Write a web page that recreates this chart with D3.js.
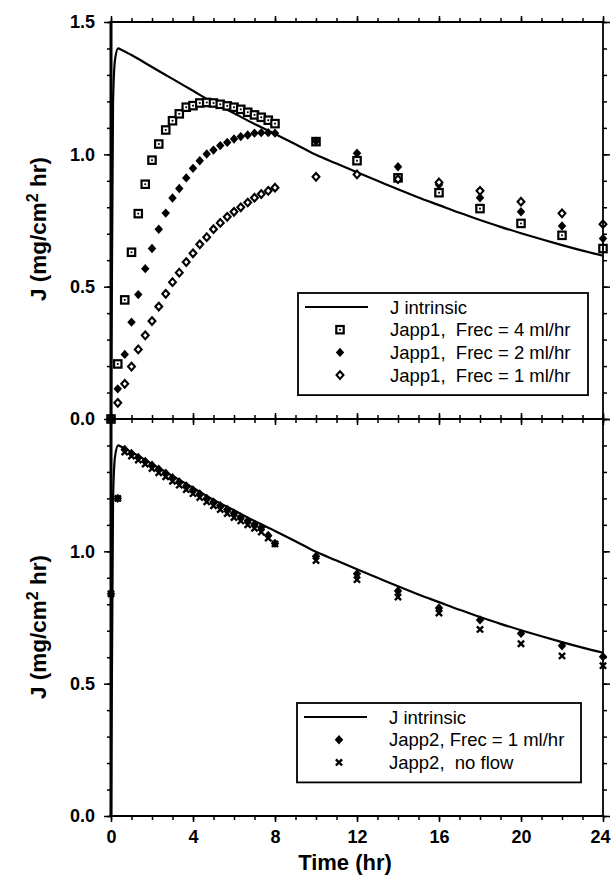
<!DOCTYPE html>
<html>
<head>
<meta charset="utf-8" />
<title>J vs time</title>
<style>
  body { margin: 0; background: #fff; }
  text { font-family: "Liberation Sans", Arial, sans-serif; fill: #000; white-space: pre; }
</style>
</head>
<body>
<svg width="612" height="890"></svg>
<script src="https://cdn.jsdelivr.net/npm/d3@7"></script>
<script>
// ---- data ----
var tIntr = [0, 0.1, 0.2, 0.35, 0.5, 1, 2, 3, 4, 5, 6, 7, 8, 9, 10, 11, 12, 13, 14, 15, 16, 17, 18, 19, 20, 21, 22, 23, 24];
var jIntr = [0, 1.2, 1.36, 1.40, 1.395, 1.375, 1.33, 1.285, 1.24, 1.195, 1.155, 1.115, 1.077, 1.038, 0.998, 0.965, 0.932, 0.9, 0.868, 0.837, 0.808, 0.779, 0.752, 0.726, 0.702, 0.679, 0.657, 0.636, 0.617];

var tApp = [0, 0.33, 0.67, 1, 1.33, 1.67, 2, 2.33, 2.67, 3, 3.33, 3.67, 4, 4.33, 4.67, 5, 5.33, 5.67, 6, 6.33, 6.67, 7, 7.33, 7.67, 8,
            10, 12, 14, 16, 18, 20, 22, 24];

var japp1F4 = [0, 0.208, 0.45, 0.63, 0.776, 0.887, 0.978, 1.039, 1.092, 1.127, 1.153, 1.178, 1.184, 1.194, 1.196, 1.194, 1.189, 1.183, 1.178, 1.17, 1.159, 1.149, 1.14, 1.129, 1.116,
               1.048, 0.976, 0.911, 0.855, 0.795, 0.739, 0.694, 0.644];
var japp1F2 = [0, 0.114, 0.244, 0.366, 0.47, 0.568, 0.644, 0.717, 0.778, 0.835, 0.871, 0.911, 0.947, 0.976, 1.001, 1.016, 1.033, 1.045, 1.058, 1.067, 1.073, 1.08, 1.082, 1.082, 1.08,
               1.05, 1.004, 0.953, 0.885, 0.836, 0.783, 0.729, 0.682];
var japp1F1 = [0, 0.061, 0.133, 0.198, 0.263, 0.316, 0.37, 0.425, 0.473, 0.517, 0.553, 0.593, 0.626, 0.66, 0.687, 0.717, 0.741, 0.764, 0.783, 0.8, 0.818, 0.836, 0.85, 0.862, 0.874,
               0.915, 0.924, 0.906, 0.894, 0.862, 0.821, 0.777, 0.736];

var japp2F1 = [0.84, 1.20, 1.385, 1.37, 1.355, 1.34, 1.325, 1.31, 1.295, 1.278, 1.262, 1.247, 1.232, 1.217, 1.20, 1.186, 1.172, 1.158, 1.144, 1.13, 1.116, 1.102, 1.09, 1.06, 1.03,
               0.981, 0.915, 0.85, 0.786, 0.741, 0.69, 0.643, 0.602];
var japp2None = [0.84, 1.20, 1.375, 1.36, 1.345, 1.33, 1.313, 1.297, 1.282, 1.265, 1.25, 1.233, 1.218, 1.203, 1.187, 1.172, 1.158, 1.143, 1.128, 1.115, 1.10, 1.087, 1.073, 1.05, 1.028,
                 0.965, 0.893, 0.827, 0.767, 0.705, 0.651, 0.605, 0.568];

var xMajor = [0, 4, 8, 12, 16, 20, 24];
var yMajorTop = [0, 0.5, 1.0, 1.5];
var yMajorBottom = [0, 0.5, 1.0];

var legendTop = ["J intrinsic", "Japp1,  Frec = 4 ml/hr", "Japp1,  Frec = 2 ml/hr", "Japp1,  Frec = 1 ml/hr"];
var legendBottom = ["J intrinsic", "Japp2, Frec = 1 ml/hr", "Japp2,  no flow"];

// ---- layout ----
var svg = d3.select("svg");
var x = d3.scaleLinear().domain([0, 24]).range([111, 603]);
var yTop = d3.scaleLinear().domain([0, 1.5]).range([419, 22]);
var yBot = d3.scaleLinear().domain([0, 1.5]).range([816, 419]);

// ---- marker painters ----
function square(g, cx, cy) {
    g.append("rect").attr("x", cx - 3.7).attr("y", cy - 3.7).attr("width", 7.4).attr("height", 7.4)
        .attr("fill", "#fff").attr("stroke", "#000").attr("stroke-width", 2.2);
    g.append("rect").attr("x", cx - 0.9).attr("y", cy - 0.9).attr("width", 1.8).attr("height", 1.8).attr("fill", "#000");
}
function diamondPath(cx, cy, r) {
    return "M" + cx + "," + (cy - r) + "L" + (cx + r * 0.9) + "," + cy + "L" + cx + "," + (cy + r) + "L" + (cx - r * 0.9) + "," + cy + "Z";
}
function filledDiamond(g, cx, cy) {
    g.append("path").attr("d", diamondPath(cx, cy, 4.7)).attr("fill", "#000");
}
function openDiamond(g, cx, cy) {
    g.append("path").attr("d", diamondPath(cx, cy, 3.8)).attr("fill", "#fff")
        .attr("stroke", "#000").attr("stroke-width", 2.1);
}
function cross(g, cx, cy) {
    var r = 3.1;
    g.append("path").attr("d", "M" + (cx - r) + "," + (cy - r) + "L" + (cx + r) + "," + (cy + r) +
        "M" + (cx - r) + "," + (cy + r) + "L" + (cx + r) + "," + (cy - r))
        .attr("stroke", "#000").attr("stroke-width", 2.4).attr("fill", "none");
}

function drawSeries(y, vals, painter) {
    var g = svg.append("g");
    vals.forEach(function (v, i) { painter(g, x(tApp[i]), y(v)); });
}

// ---- axes for a panel ----
function drawAxes(y, yMajor, showXLabels) {
    var top = y.range()[1], bot = y.range()[0];
    var noLab = function () { return ""; };
    var minorY = d3.range(0, 1.501, 0.1);
    var minorX = d3.range(0, 24.01, 1);

    function add(axis, tr) {
        var g = svg.append("g").attr("transform", tr).call(axis);
        g.selectAll("path.domain").remove();
        g.selectAll(".tick line").attr("stroke", "#000").attr("stroke-width", 1.5);
        g.selectAll(".tick text").attr("font-size", 18).attr("font-weight", "bold")
            .attr("font-family", "Liberation Sans, Arial, sans-serif");
        return g;
    }
    // left
    add(d3.axisLeft(y).tickValues(minorY).tickSize(4).tickFormat(noLab), "translate(" + x(0) + ",0)");
    add(d3.axisLeft(y).tickValues(yMajor).tickSize(7).tickPadding(9).tickFormat(d3.format(".1f")), "translate(" + x(0) + ",0)");
    // right
    add(d3.axisRight(y).tickValues(minorY).tickSize(4).tickFormat(noLab), "translate(" + x(24) + ",0)");
    add(d3.axisRight(y).tickValues(yMajorTop).tickSize(7).tickFormat(noLab), "translate(" + x(24) + ",0)");
    // top
    add(d3.axisTop(x).tickValues(minorX).tickSize(4).tickFormat(noLab), "translate(0," + top + ")");
    add(d3.axisTop(x).tickValues(xMajor).tickSize(6).tickFormat(noLab), "translate(0," + top + ")");
    // bottom
    add(d3.axisBottom(x).tickValues(minorX).tickSize(4).tickFormat(noLab), "translate(0," + bot + ")");
    var gx = add(d3.axisBottom(x).tickValues(xMajor).tickSize(6).tickPadding(8)
        .tickFormat(showXLabels ? d3.format("d") : noLab), "translate(0," + bot + ")");
    // keep the last label inside the page
    gx.selectAll(".tick text").filter(function (d) { return d === 24; }).attr("dx", -3);

    // frame
    svg.append("line").attr("x1", x(0)).attr("x2", x(0)).attr("y1", top).attr("y2", bot)
        .attr("stroke", "#000").attr("stroke-width", 3);
    svg.append("line").attr("x1", x(24)).attr("x2", x(24)).attr("y1", top).attr("y2", bot)
        .attr("stroke", "#000").attr("stroke-width", 1.8);
    svg.append("line").attr("x1", x(0) - 1.5).attr("x2", x(24)).attr("y1", top).attr("y2", top)
        .attr("stroke", "#000").attr("stroke-width", 1.8);
    svg.append("line").attr("x1", x(0) - 1.5).attr("x2", x(24)).attr("y1", bot).attr("y2", bot)
        .attr("stroke", "#000").attr("stroke-width", 2);
}

function drawIntrinsic(y) {
    var line = d3.line().x(function (d, i) { return x(tIntr[i]); }).y(function (d) { return y(d); })
        .curve(d3.curveMonotoneX);
    svg.append("path").datum(jIntr).attr("d", line).attr("fill", "none")
        .attr("stroke", "#000").attr("stroke-width", 2.2);
}

function drawLegend(x0, y0, x1, rows, painters) {
    var rowH = 22.7;
    var yb = y0 + 14 + rowH * (rows.length - 1) + 20;
    svg.append("rect").attr("x", x0).attr("y", y0).attr("width", x1 - x0).attr("height", yb - y0)
        .attr("fill", "#fff").attr("stroke", "#000").attr("stroke-width", 1.8);
    var g = svg.append("g");
    rows.forEach(function (label, i) {
        var cy = y0 + 14 + rowH * i;
        if (i === 0) {
            g.append("line").attr("x1", x0 + 7).attr("x2", x0 + 70).attr("y1", cy).attr("y2", cy)
                .attr("stroke", "#000").attr("stroke-width", 1.8);
        } else {
            painters[i](g, x0 + 42, cy);
        }
        g.append("text").attr("x", x0 + 92).attr("y", cy + 6.5).attr("font-size", 18.5).text(label);
    });
}

// ---- top panel ----
drawIntrinsic(yTop);
drawSeries(yTop, japp1F4, square);
drawSeries(yTop, japp1F2, filledDiamond);
drawSeries(yTop, japp1F1, openDiamond);
drawAxes(yTop, yMajorTop, false);
drawLegend(298, 293, 588, legendTop, [null, square, filledDiamond, openDiamond]);

// ---- bottom panel ----
drawIntrinsic(yBot);
drawSeries(yBot, japp2F1, filledDiamond);
drawSeries(yBot, japp2None, cross);
drawAxes(yBot, yMajorBottom, true);
drawLegend(297, 703, 581, legendBottom, [null, filledDiamond, cross]);

// ---- axis titles ----
svg.append("text").attr("x", 345).attr("y", 870).attr("text-anchor", "middle")
    .attr("font-size", 22).attr("font-weight", "bold").text("Time (hr)");

[229, 627].forEach(function (cy) {
    var t = svg.append("text").attr("transform", "translate(46," + cy + ") rotate(-90)")
        .attr("text-anchor", "middle").attr("font-size", 22.5).attr("font-weight", "bold");
    t.append("tspan").text("J (mg/cm");
    t.append("tspan").attr("font-size", 16).attr("dy", -8).text("2");
    t.append("tspan").attr("dy", 8).text(" hr)");
});
</script>
</body>
</html>
